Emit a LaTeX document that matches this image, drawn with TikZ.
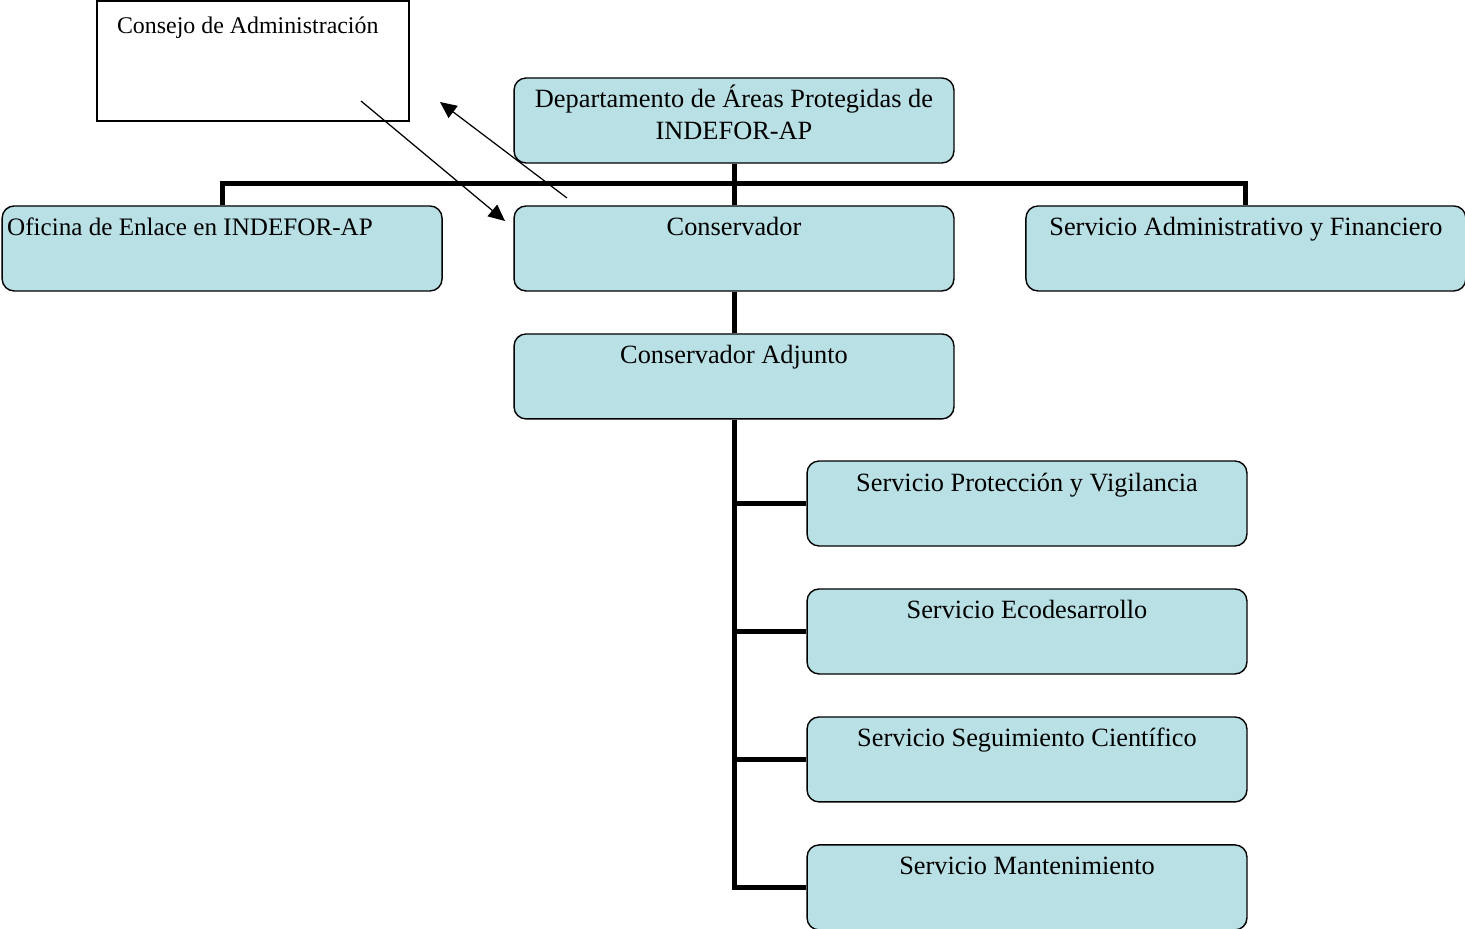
\documentclass[tikz,border=0pt]{standalone}
\usepackage{fontspec}
\setmainfont{Liberation Serif}
\usepackage{tikz}
\usetikzlibrary{positioning, arrows.meta}
\definecolor{boxblue}{RGB}{185,224,228}

\begin{document}
\begin{tikzpicture}[x=0.02cm,y=-0.02cm,>={Triangle[length=0.33cm,width=0.3cm]},node distance=2.56cm,
    unit/.style={draw, line width=0.8pt, rounded corners=0.24cm, fill=boxblue, minimum width=8.8cm,
                 inner sep=0pt, text height=0.6cm, text depth=1.1cm, font=\fontsize{15}{18.6}\selectfont},
    link/.style={line width=0.1cm}]
                        \useasboundingbox (0,0) rectangle (1465,929);
                        \node[draw, line width=0.7pt, fill=white, minimum width=6.24cm, inner xsep=0.4cm, inner ysep=0pt,
                              text width=5.44cm, align=flush left, text height=0.64cm, text depth=1.76cm,
                              font=\fontsize{13.6}{16}\selectfont] (cj) at (253,61) {Consejo de Administración};
                        \node[unit, align=center, text height=1.24cm, text depth=0.46cm] (dep) at (734,120.5) {Departamento de Áreas Protegidas de\\INDEFOR-AP};
                        \node[unit]                                             (cons) [below of=dep]   {Conservador};
                        \node[unit]                                             (adj)  [below of=cons]  {Conservador Adjunto};
                        \node[unit, text width=8.6cm, inner xsep=0.1cm, align=flush left,
                              font=\fontsize{14.3}{18}\selectfont]              (ofi)  [left of=cons, node distance=10.24cm] {Oficina de Enlace en INDEFOR-AP};
                        \node[unit]                                             (adm)  [right of=cons, node distance=10.24cm] {Servicio Administrativo y Financiero};
                        \node[unit]                                             (prot) at (1027,503.5)  {Servicio Protección y Vigilancia};
                        \node[unit]                                             (eco)  [below of=prot]  {Servicio Ecodesarrollo};
                        \node[unit]                                             (seg)  [below of=eco]   {Servicio Seguimiento Científico};
                        \node[unit]                                             (mant) [below of=seg]   {Servicio Mantenimiento};
                        \coordinate (bus) at (734,184);
                        \draw[link] (ofi.north) |- (bus) -| (adm.north);
                        \draw[link] (dep) -- (cons);
                        \draw[link] (cons) -- (adj);
                        \foreach \s in {prot,eco,seg,mant}
                            \draw[link] (adj.south) |- (\s.west);
                        % arrows between the council and the department
                        \coordinate (c1) at (361,101);
                        \coordinate (c2) at (505,221);
                        \coordinate (c3) at (567,198);
                        \coordinate (c4) at (440,102);
                        \draw[->, line width=0.7pt] (c1) -- (c2);
                        \draw[->, line width=0.7pt] (c3) -- (c4);
                    \end{tikzpicture}
\end{document}
